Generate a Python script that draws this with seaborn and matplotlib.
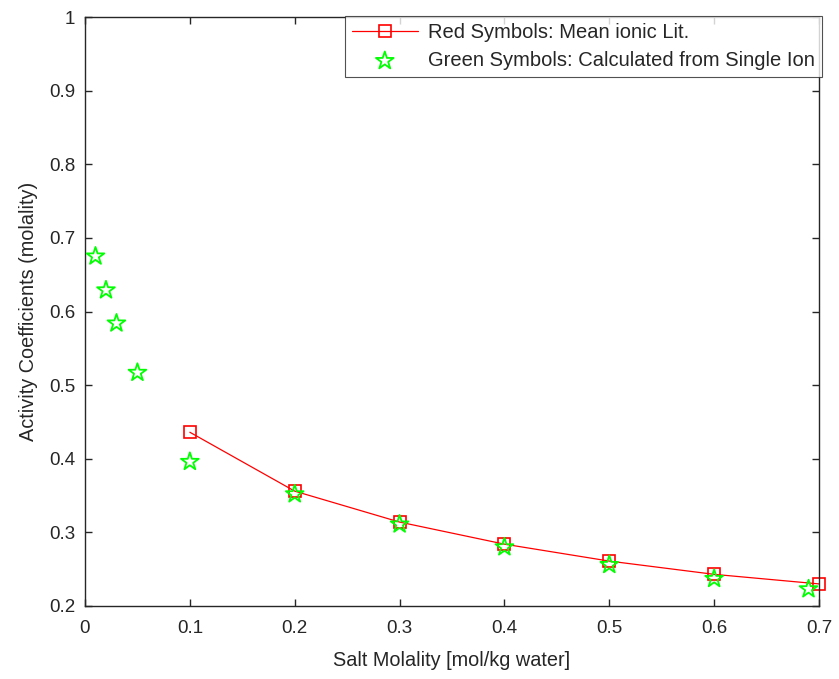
import numpy as np
import pandas as pd
import seaborn as sns
import matplotlib
matplotlib.use("Agg")
import matplotlib.pyplot as plt

# Mean ionic activity coefficients from literature
lit_molality = [0.1, 0.2, 0.3, 0.4, 0.5, 0.6, 0.7]
lit_gamma = [0.436, 0.356, 0.314, 0.284, 0.261, 0.243, 0.230]

# Activity coefficients computed from single-ion values
calc_molality = [0.01, 0.02, 0.03, 0.05, 0.1, 0.2, 0.3, 0.4, 0.5, 0.6, 0.69]
calc_gamma = [0.675, 0.629, 0.584, 0.517, 0.396, 0.352, 0.311, 0.280, 0.256, 0.237, 0.223]

x_ticks = [0, 0.1, 0.2, 0.3, 0.4, 0.5, 0.6, 0.7]
y_ticks = [0.2, 0.3, 0.4, 0.5, 0.6, 0.7, 0.8, 0.9, 1.0]

sns.set_theme(style="ticks")
plt.rcParams["font.family"] = ["Liberation Sans", "DejaVu Sans"]

lit = pd.DataFrame({"m": lit_molality, "g": lit_gamma})
calc = pd.DataFrame({"m": calc_molality, "g": calc_gamma})

fig = plt.figure(figsize=(8.39, 6.79), dpi=100)
ax = fig.add_axes([85 / 839, 1 - 606 / 679, (819 - 85) / 839, (606 - 17) / 679])

sns.lineplot(data=lit, x="m", y="g", ax=ax, color="#ff0000", lw=0.9,
             marker="s", markersize=8, markerfacecolor="none",
             markeredgecolor="#ff0000", markeredgewidth=1.2,
             label="Red Symbols: Mean ionic Lit.", clip_on=False)
sns.scatterplot(data=calc, x="m", y="g", ax=ax, marker="*", s=180,
                facecolor="none", edgecolor="#00ff00", linewidth=1.3,
                label="Green Symbols: Calculated from Single Ion",
                clip_on=False, zorder=3)

ax.set_xlim(0, 0.7)
ax.set_ylim(0.2, 1.0)
ax.set_xticks(x_ticks)
ax.set_xticklabels(["0" if v == 0 else f"{v:g}" for v in x_ticks])
ax.set_yticks(y_ticks)
ax.set_yticklabels([f"{v:g}" for v in y_ticks])
ax.tick_params(axis="both", direction="in", length=5, width=1.0, labelsize=13.5,
               colors="#262626", top=True, right=True)
ax.tick_params(axis="x", pad=10)
ax.tick_params(axis="y", pad=7)
for s in ax.spines.values():
    s.set_color("#262626")
    s.set_linewidth(1.0)
ax.set_xlabel("Salt Molality [mol/kg water]", fontsize=14.3, color="#262626",
              labelpad=10)
ax.set_ylabel("Activity Coefficients (molality)", fontsize=14.3, color="#262626",
              labelpad=8)

leg = ax.legend(loc="upper right", bbox_to_anchor=(822 / 839, 1 - 16 / 679),
                bbox_transform=fig.transFigure,
                fontsize=14.5, frameon=True, fancybox=False,
                edgecolor="#262626", borderpad=0.35, handlelength=3.3,
                handletextpad=0.5, labelspacing=0.45, borderaxespad=0)
leg.get_frame().set_linewidth(0.8)

fig.savefig("out.png", dpi=100)
